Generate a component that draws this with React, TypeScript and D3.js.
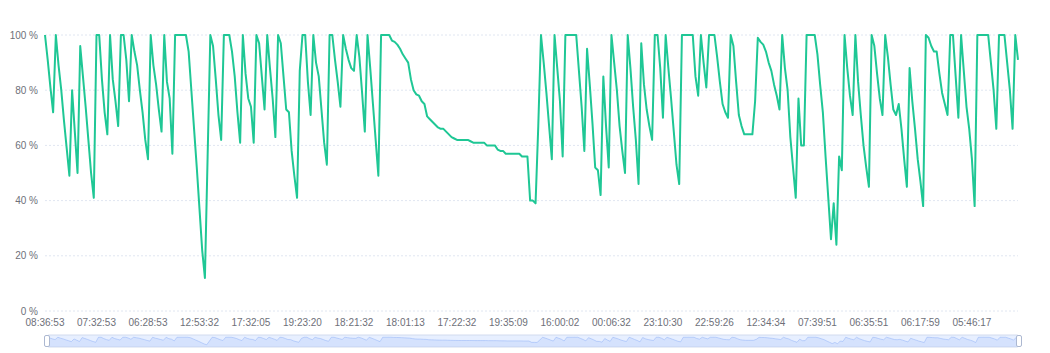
import React from "react";
import * as d3 from "d3";

// Battery / usage level (%) per sample
const values: number[] = [
  100, 91, 81, 72, 100, 89, 80, 69, 59, 49,
  80, 65, 50, 96, 85, 74, 62, 50, 41, 100,
  100, 84, 72, 64, 100, 84, 76, 67, 100, 100,
  91, 76, 100, 94, 89, 80, 72, 62, 55, 100,
  89, 82, 73, 65, 100, 83, 77, 57, 100, 100,
  100, 100, 100, 94, 80, 66, 52, 37, 22, 12,
  56, 100, 96, 84, 71, 62, 100, 100, 100, 94,
  85, 72, 61, 100, 86, 77, 74, 61, 100, 97,
  85, 73, 100, 88, 77, 63, 100, 97, 85, 73,
  72, 58, 49, 41, 87, 100, 100, 83, 71, 100,
  90, 85, 73, 61, 53, 100, 100, 91, 83, 74,
  100, 95, 91, 88, 87, 100, 92, 79, 65, 100,
  88, 75, 62, 49, 100, 100, 100, 100, 98, 97.5,
  96.5, 95, 93, 91.5, 90, 84, 80, 78.5, 78, 76,
  75, 70.5, 69.5, 68.5, 67.5, 66.5, 66, 66, 65, 64,
  63, 62.5, 62, 62, 62, 62, 62, 61.5, 61, 61,
  61, 61, 61, 60, 60, 60, 60, 58.5, 58, 58,
  57, 57, 57, 57, 57, 57, 56, 56, 56, 40,
  40, 39, 67, 100, 90, 79, 67, 55, 100, 88,
  76, 56, 100, 100, 100, 100, 100, 87, 74, 58,
  95, 82, 68, 52, 51, 42, 85, 67, 52, 100,
  90, 80, 67, 58, 50, 100, 88, 74, 62, 46,
  97, 82, 73, 67, 62, 100, 100, 88, 70, 100,
  88, 77, 65, 53, 46, 100, 100, 100, 100, 100,
  85, 78, 100, 90, 81, 100, 100, 100, 92, 83,
  75, 72, 70, 100, 96, 83, 71, 67, 64, 64,
  64, 64, 76, 99, 97.5, 96.5, 94, 90, 87, 82,
  78, 73, 100, 88, 80, 63, 52, 41, 77, 60,
  60, 100, 100, 100, 100, 93, 82, 72, 56, 41,
  26, 39, 24, 56, 51, 100, 88, 78, 71, 100,
  83, 71, 60, 52, 45, 100, 96, 86, 77, 71,
  100, 92, 82, 73, 71, 75, 66, 55, 45, 88,
  76, 66, 55, 47, 38, 100, 99, 96, 94, 94,
  86, 79, 75, 71, 100, 100, 85, 70, 100, 87,
  74, 66, 55, 38, 100, 100, 100, 100, 100, 90,
  80, 66, 100, 100, 100, 90, 80, 66, 100, 91,
];

// Category labels shown on the x axis (one every labelInterval samples)
const tickLabels: string[] = [
  "08:36:53", "07:32:53", "06:28:53", "12:53:32", "17:32:05", "19:23:20",
  "18:21:32", "18:01:13", "17:22:32", "19:35:09", "16:00:02", "00:06:32",
  "23:10:30", "22:59:26", "12:34:34", "07:39:51", "06:35:51", "06:17:59",
  "05:46:17",
];
const labelInterval = 19;

const yTicks: number[] = [0, 20, 40, 60, 80, 100];

const W = 1050;
const H = 353;
const left = 45;
const right = 1018;
const top = 35;
const bottom = 311;

const sliderTop = 335;
const sliderBottom = 347;
const sliderLeft = 47;
const sliderRight = 1019;

const FONT = "'Liberation Sans', Arial, sans-serif";

export default function App() {
  const indices = values.map((_, i) => i);
  const x = d3.scalePoint<number>().domain(indices).range([left, right]);
  const y = d3.scaleLinear().domain([0, 100]).range([bottom, top]);

  const line = d3
    .line<number>()
    .x((_, i) => x(i) as number)
    .y((d) => y(d));

  // data shadow in slider
  const ext = d3.extent(values) as [number, number];
  const off = (ext[1] - ext[0]) * 0.3;
  const sx = d3.scaleLinear().domain([0, values.length - 1]).range([sliderLeft, sliderRight]);
  const sy = d3
    .scaleLinear()
    .domain([ext[0] - off, ext[1] + off])
    .range([sliderBottom, sliderTop]);
  const shadowArea = d3
    .area<number>()
    .x((_, i) => sx(i))
    .y0(sliderBottom)
    .y1((d) => sy(d));
  const shadowLine = d3
    .line<number>()
    .x((_, i) => sx(i))
    .y((d) => sy(d));

  const handle = (cx: number) => {
    const hh = sliderBottom - sliderTop;
    return (
      <g>
        <rect
          x={cx - 2.5}
          y={sliderTop + 0.5}
          width={5}
          height={hh - 1}
          rx={1.5}
          fill="#fff"
          stroke="#ACB8D1"
          strokeWidth={1}
        />
      </g>
    );
  };

  return (
    <div style={{ position: "absolute", left: 0, top: 0, width: W, height: H }}>
      <svg width={W} height={H} style={{ display: "block" }}>
        <rect x={0} y={0} width={W} height={H} fill="#fff" />
        {yTicks.map((t) => (
          <g key={t}>
            <line
              x1={left}
              x2={right}
              y1={y(t)}
              y2={y(t)}
              stroke="#e0e6f1"
              strokeWidth={1}
              strokeDasharray="2,2"
            />
            <text
              x={left - 7}
              y={y(t)}
              textAnchor="end"
              dominantBaseline="central"
              fontFamily={FONT}
              fontSize={10}
              fill="#6e7079"
            >
              {`${t} %`}
            </text>
          </g>
        ))}
        {tickLabels.map((lab, k) => (
          <text
            key={lab + k}
            x={x(k * labelInterval) as number}
            y={bottom + 11}
            textAnchor="middle"
            dominantBaseline="central"
            fontFamily={FONT}
            fontSize={10}
            fill="#6e7079"
          >
            {lab}
          </text>
        ))}
        <path
          d={line(values) || ""}
          fill="none"
          stroke="#1fc795"
          strokeWidth={2}
          strokeLinejoin="round"
        />
        {/* data zoom slider */}
        <rect
          x={sliderLeft}
          y={sliderTop}
          width={sliderRight - sliderLeft}
          height={sliderBottom - sliderTop}
          fill="rgba(135,175,255,0.2)"
          stroke="#d2dbee"
          strokeWidth={1}
          rx={2}
        />
        <path d={shadowArea(values) || ""} fill="#8fb0f7" fillOpacity={0.2} />
        <path d={shadowLine(values) || ""} fill="none" stroke="#8fb0f7" strokeWidth={0.5} />
        {handle(sliderLeft)}
        {handle(sliderRight)}
      </svg>
    </div>
  );
}
